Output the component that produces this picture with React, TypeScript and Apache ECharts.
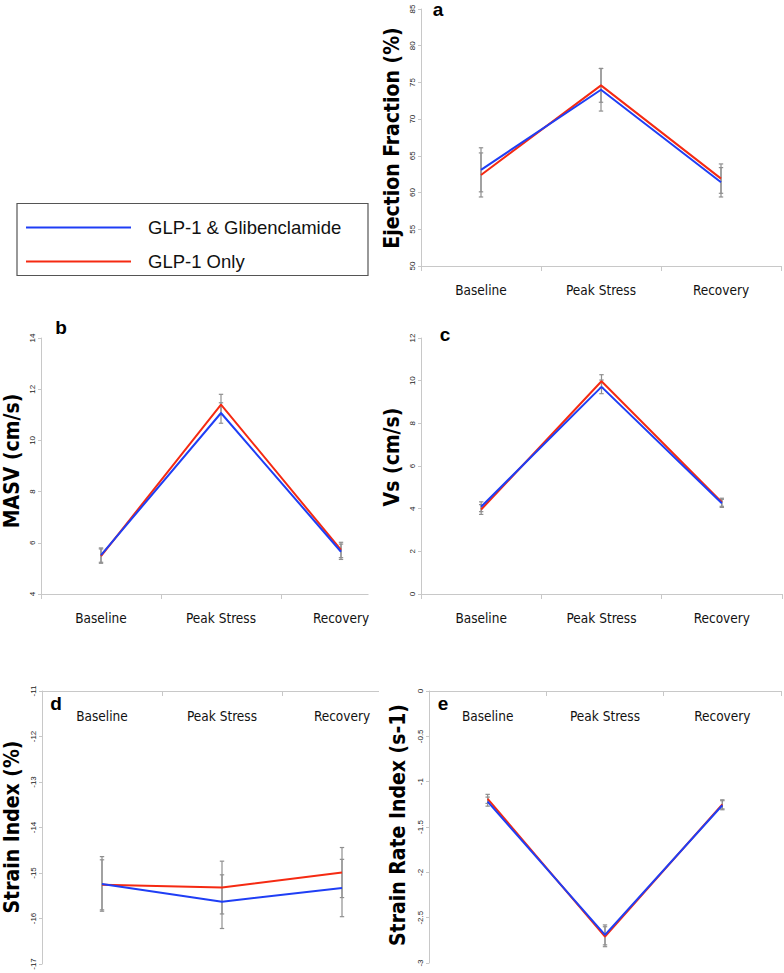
import React, { useEffect, useRef } from 'react';
import * as echarts from 'echarts';

// ---------- data ----------
const categories = ['Baseline', 'Peak Stress', 'Recovery'];
const seriesNames = ['GLP-1 & Glibenclamide', 'GLP-1 Only'];

// a: Ejection Fraction (%)
const efGlib = [63.1, 74.0, 61.4];
const efGlibErr = [3.0, 2.9, 2.0];
const efOnly = [62.4, 74.6, 61.9];
const efOnlyErr = [3.0, 2.3, 2.0];

// b: MASV (cm/s)
const masvGlib = [5.52, 11.07, 5.65];
const masvGlibErr = [0.28, 0.4, 0.3];
const masvOnly = [5.48, 11.4, 5.72];
const masvOnlyErr = [0.28, 0.4, 0.3];

// c: Vs (cm/s)
const vsGlib = [4.09, 9.71, 4.25];
const vsGlibErr = [0.23, 0.32, 0.19];
const vsOnly = [3.96, 9.97, 4.3];
const vsOnlyErr = [0.23, 0.31, 0.19];

// d: Strain Index (%)
const siGlib = [-15.24, -15.63, -15.33];
const siGlibErr = [0.6, 0.59, 0.63];
const siOnly = [-15.26, -15.32, -14.99];
const siOnlyErr = [0.55, 0.58, 0.55];

// e: Strain Rate Index (s-1)
const sriGlib = [-1.22, -2.69, -1.26];
const sriGlibErr = [0.05, 0.11, 0.05];
const sriOnly = [-1.19, -2.71, -1.25];
const sriOnlyErr = [0.05, 0.11, 0.05];

// axis scales
const yMins = [50, 4, 0, -17, -3];
const yMaxs = [85, 14, 12, -11, 0];
const yIntervals = [5, 2, 2, 1, 0.5];
const yTitles = ['Ejection Fraction (%)', 'MASV (cm/s)', 'Vs (cm/s)', 'Strain Index (%)', 'Strain Rate Index (s-1)'];
const panelLetters = ['a', 'b', 'c', 'd', 'e'];

// ---------- styling / layout ----------
const BLUE = '#1f3ef5';
const RED = '#f52a12';
const AXIS = '#c8c8c8';
const ERR = '#8f8f8f';
const NARROW = '"DejaVu Sans Condensed", "Liberation Sans Narrow", "Liberation Sans", sans-serif';
const TITLE_FONT = 'bold 21px "DejaVu Sans Condensed", "DejaVu Sans", sans-serif';
const LETTER_FONT = 'bold 19px "Liberation Sans", Arial, sans-serif';

const grids = [
  { left: 421, top: 9, width: 360, height: 257 },
  { left: 41, top: 338, width: 360, height: 256 },
  { left: 421, top: 338, width: 361, height: 256 },
  { left: 42, top: 691, width: 360, height: 273 },
  { left: 429, top: 691, width: 352, height: 272 },
];
const xOnTop = [false, false, false, true, true];
const titlePos = [
  [392, 138],
  [12, 461],
  [392, 457],
  [12, 827],
  [398, 825],
];
const letterPos = [
  [438, 9],
  [61, 327],
  [445, 334],
  [56, 703],
  [443, 703],
];

const panels = [
  { glib: efGlib, glibErr: efGlibErr, only: efOnly, onlyErr: efOnlyErr },
  { glib: masvGlib, glibErr: masvGlibErr, only: masvOnly, onlyErr: masvOnlyErr },
  { glib: vsGlib, glibErr: vsGlibErr, only: vsOnly, onlyErr: vsOnlyErr },
  { glib: siGlib, glibErr: siGlibErr, only: siOnly, onlyErr: siOnlyErr },
  { glib: sriGlib, glibErr: sriGlibErr, only: sriOnly, onlyErr: sriOnlyErr },
];

function errorRender(params: any, api: any) {
  const x = api.value(0);
  const lo = api.coord([x, api.value(1)]);
  const hi = api.coord([x, api.value(2)]);
  const w = 2.2;
  const style = { stroke: ERR, lineWidth: 1.2 };
  return {
    type: 'group',
    children: [
      { type: 'line', shape: { x1: lo[0], y1: lo[1], x2: hi[0], y2: hi[1] }, style },
      { type: 'line', shape: { x1: lo[0] - w, y1: lo[1], x2: lo[0] + w, y2: lo[1] }, style },
      { type: 'line', shape: { x1: hi[0] - w, y1: hi[1], x2: hi[0] + w, y2: hi[1] }, style },
    ],
  };
}

function buildOption() {
  const xAxis: any[] = [];
  const yAxis: any[] = [];
  const series: any[] = [];
  panels.forEach((p, i) => {
    const top = xOnTop[i];
    xAxis.push({
      type: 'category',
      gridIndex: i,
      data: categories,
      boundaryGap: true,
      position: top ? 'top' : 'bottom',
      axisLine: { show: true, onZero: false, lineStyle: { color: AXIS, width: 1 } },
      axisTick: { show: true, inside: top, length: 5, alignWithLabel: false, interval: 0, lineStyle: { color: AXIS } },
      axisLabel: { interval: 0, inside: top, margin: top ? 18 : 17, fontFamily: NARROW, fontSize: 13.5, color: '#111' },
      splitLine: { show: false },
    });
    yAxis.push({
      type: 'value',
      gridIndex: i,
      min: yMins[i],
      max: yMaxs[i],
      interval: yIntervals[i],
      axisLine: { show: true, lineStyle: { color: AXIS, width: 1 } },
      axisTick: { show: true, length: 3, lineStyle: { color: AXIS } },
      splitLine: { show: false },
      axisLabel: { rotate: 90, margin: 5, fontSize: 8, color: '#222', fontFamily: '"Liberation Sans", Arial, sans-serif' },
    });
    series.push({
      type: 'custom',
      name: 'err-only-' + i,
      xAxisIndex: i,
      yAxisIndex: i,
      renderItem: errorRender,
      encode: { x: 0, y: [1, 2] },
      data: p.only.map((v, j) => [j, v - p.onlyErr[j], v + p.onlyErr[j]]),
      z: 1,
      silent: true,
    });
    series.push({
      type: 'custom',
      name: 'err-glib-' + i,
      xAxisIndex: i,
      yAxisIndex: i,
      renderItem: errorRender,
      encode: { x: 0, y: [1, 2] },
      data: p.glib.map((v, j) => [j, v - p.glibErr[j], v + p.glibErr[j]]),
      z: 1,
      silent: true,
    });
    series.push({
      type: 'line',
      name: seriesNames[1],
      xAxisIndex: i,
      yAxisIndex: i,
      data: p.only,
      symbol: 'none',
      lineStyle: { color: RED, width: 2 },
      itemStyle: { color: RED },
      z: 2,
    });
    series.push({
      type: 'line',
      name: seriesNames[0],
      xAxisIndex: i,
      yAxisIndex: i,
      data: p.glib,
      symbol: 'none',
      lineStyle: { color: BLUE, width: 2 },
      itemStyle: { color: BLUE },
      z: 3,
    });
  });

  const graphic: any[] = [];
  yTitles.forEach((t, i) => {
    graphic.push({
      type: 'text',
      x: titlePos[i][0],
      y: titlePos[i][1],
      rotation: Math.PI / 2,
      style: { text: t, font: TITLE_FONT, fill: '#000', textAlign: 'center', textVerticalAlign: 'middle', align: 'center', verticalAlign: 'middle' },
      z: 50,
    });
  });
  panelLetters.forEach((t, i) => {
    graphic.push({
      type: 'text',
      x: letterPos[i][0],
      y: letterPos[i][1],
      style: { text: t, font: LETTER_FONT, fill: '#000', textAlign: 'center', textVerticalAlign: 'middle', align: 'center', verticalAlign: 'middle' },
      z: 50,
    });
  });
  // legend frame
  graphic.push({
    type: 'rect',
    shape: { x: 17, y: 203.5, width: 351, height: 72 },
    style: { fill: 'none', stroke: '#555', lineWidth: 1.2 },
    z: 40,
  });
  // the original figure crops the right ends of panels b and d
  graphic.push({ type: 'rect', shape: { x: 368.5, y: 589, width: 37, height: 12 }, style: { fill: '#fff' }, z: 60 });
  graphic.push({ type: 'rect', shape: { x: 379, y: 686, width: 27, height: 11 }, style: { fill: '#fff' }, z: 60 });

  return {
    animation: false,
    backgroundColor: '#ffffff',
    grid: grids.map((g) => ({ ...g, containLabel: false })),
    xAxis,
    yAxis,
    series,
    legend: {
      data: seriesNames,
      orient: 'vertical',
      left: 21,
      top: 213,
      icon: 'rect',
      itemWidth: 105,
      itemHeight: 2,
      itemGap: 15,
      selectedMode: false,
      textStyle: { fontFamily: '"Liberation Sans", Arial, sans-serif', fontSize: 18.5, color: '#111', padding: [0, 0, 0, 12] },
    },
    graphic,
  };
}

export default function App() {
  const ref = useRef<HTMLDivElement>(null);
  useEffect(() => {
    if (!ref.current) return;
    const chart = echarts.init(ref.current, null, { renderer: 'svg' });
    chart.setOption(buildOption() as any);
    return () => chart.dispose();
  }, []);
  return (
    <div
      ref={ref}
      style={{ position: 'absolute', left: 0, top: 0, width: 784, height: 973, background: '#fff' }}
    />
  );
}
